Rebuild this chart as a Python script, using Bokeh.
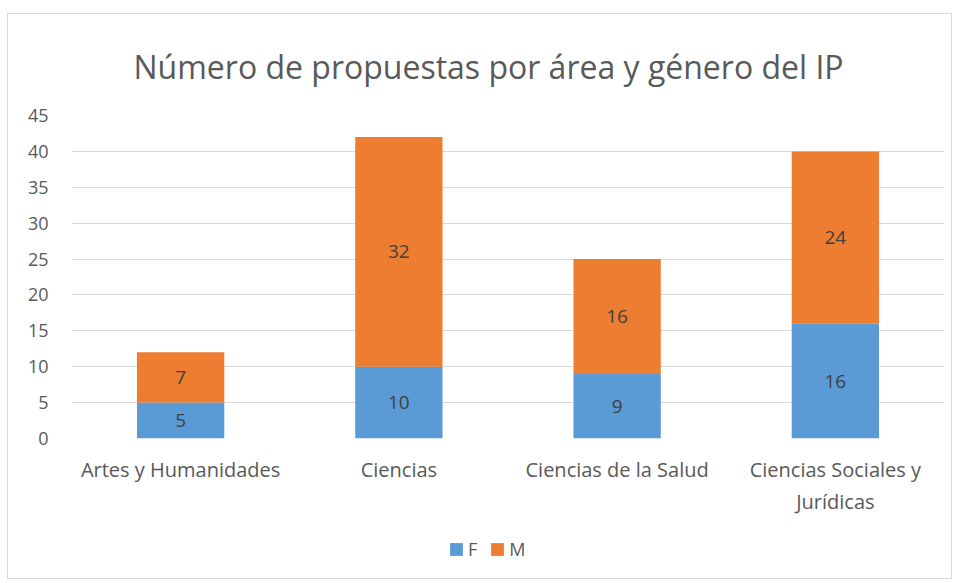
from bokeh.plotting import figure
from bokeh.layouts import column
from bokeh.models import ColumnDataSource, FactorRange, Legend, LegendItem, LabelSet, SingleIntervalTicker
from bokeh.core.properties import value
from bokeh.embed import file_html
from bokeh.resources import INLINE

categories = ["Artes y Humanidades", "Ciencias", "Ciencias de la Salud", "Ciencias Sociales y\nJurídicas"]
f_values = [5, 10, 9, 16]
m_values = [7, 32, 16, 24]
series = ["F", "M"]
colors = ["#5B9BD5", "#ED7D31"]

FONT = "Open Sans"
GRAY = "#595959"

src = ColumnDataSource(dict(
    cat=categories,
    F=f_values,
    M=m_values,
    f_mid=[v / 2 for v in f_values],
    m_mid=[f + m / 2 for f, m in zip(f_values, m_values)],
    f_lab=[str(v) for v in f_values],
    m_lab=[str(v) for v in m_values],
))

p = figure(x_range=FactorRange(*categories), y_range=(0, 45),
           width=943, height=510, output_backend="svg", toolbar_location=None,
           title="Número de propuestas por área y género del IP",
           min_border_left=63, min_border_right=7, min_border_top=99, min_border_bottom=86)

p.title.align = "left"
p.title.text_font = FONT
p.title.text_font_size = "32px"
p.title.text_font_style = "normal"
p.title.text_color = GRAY
p.title.standoff = 56
p.title.offset = 62

r = p.vbar_stack(series, x="cat", width=0.4, source=src, color=colors, line_color=None)

for ycol, tcol in (("f_mid", "f_lab"), ("m_mid", "m_lab")):
    p.add_layout(LabelSet(x="cat", y=ycol, text=tcol, source=src, text_align="center",
                          text_baseline="middle", text_font=value(FONT), text_font_size="19px",
                          text_color="#404040"))

p.yaxis.ticker = SingleIntervalTicker(interval=5)
for ax in (p.xaxis[0], p.yaxis[0]):
    ax.axis_line_color = None
    ax.major_tick_line_color = None
    ax.minor_tick_line_color = None
    ax.major_label_text_font = FONT
    ax.major_label_text_color = GRAY
p.yaxis.major_label_text_font_size = "18px"
p.xaxis.major_label_text_font_size = "20px"
p.yaxis.major_label_standoff = 17
p.xaxis.major_label_standoff = 11

p.xgrid.grid_line_color = None
p.ygrid.grid_line_color = "#D9D9D9"
p.ygrid.grid_line_width = 1
p.outline_line_color = None

# legend strip below the chart (legend-only renderers carry no visible data)
nan = float("nan")
pl = figure(width=943, height=54, output_backend="svg", toolbar_location=None,
            x_range=(0, 1), y_range=(0, 1), x_axis_type=None, y_axis_type=None,
            min_border_left=0, min_border_right=0, min_border_top=0, min_border_bottom=0)
pl.grid.visible = False
pl.outline_line_color = None
leg_r = [pl.vbar(x=[nan], top=[nan], width=0.1, fill_color=c, line_color=None) for c in colors]
legend = Legend(items=[LegendItem(label=s, renderers=[rr]) for s, rr in zip(series, leg_r)],
                orientation="horizontal", location=(377, 17),
                label_text_font=FONT, label_text_font_size="18px", label_text_color=GRAY,
                glyph_width=16, glyph_height=16, spacing=12, label_standoff=4, label_width=0,
                padding=0, margin=0,
                border_line_color=None, background_fill_alpha=0)
pl.add_layout(legend, "center")

layout = column(p, pl, spacing=0)
layout.styles = {"border": "1px solid #D9D9D9", "margin-left": "7px", "margin-top": "13px"}

open("out.html", "w").write(file_html(layout, INLINE))
